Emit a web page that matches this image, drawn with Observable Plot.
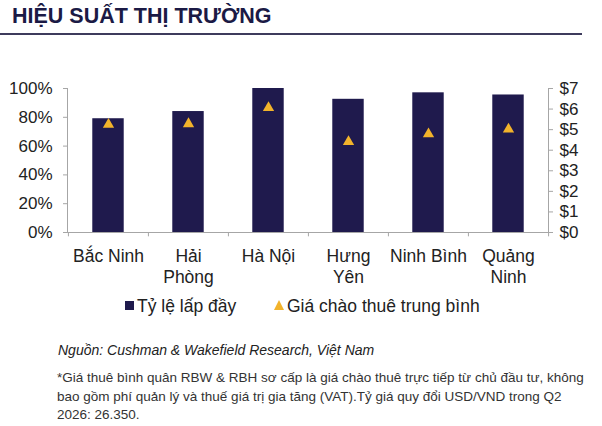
<!DOCTYPE html>
<html><head><meta charset="utf-8">
<script src="https://cdn.jsdelivr.net/npm/d3@7"></script>
<script src="https://cdn.jsdelivr.net/npm/@observablehq/plot@0.6"></script>
<style>
body{margin:0;width:602px;height:426px;position:relative;background:#fff;font-family:"Liberation Sans",Arial,sans-serif;overflow:hidden}
.abs{position:absolute;white-space:nowrap}
</style></head><body>
<div class="abs" style="left:12px;top:4px;font-weight:bold;font-size:21.5px;color:#1b1a45">HIỆU SUẤT THỊ TRƯỜNG</div>
<div class="abs" style="left:0;top:33px;width:582px;height:2px;background:#3d3b5c"></div>
<div class="abs" style="left:507px;top:47px;width:60px;text-align:center;font-size:13px;line-height:16px;color:#333">USD/m²/<br>tháng</div>
<div id="chart" class="abs" style="left:0;top:40px"></div>
<div class="abs" style="left:125px;top:301px;width:9px;height:9px;background:#1f1a4d"></div>
<div class="abs" style="left:137px;top:296px;font-size:17.5px;line-height:20px;color:#222">Tỷ lệ lấp đầy</div>
<div class="abs" style="left:274px;top:300px;width:0;height:0;border-left:5.5px solid transparent;border-right:5.5px solid transparent;border-bottom:10px solid #f2b32b"></div>
<div class="abs" style="left:287px;top:296px;font-size:17.5px;line-height:20px;color:#222">Giá chào thuê trung bình</div>
<div class="abs" style="left:58px;top:341px;font-size:14px;line-height:18px;font-style:italic;color:#222">Nguồn: Cushman &amp; Wakefield Research, Việt Nam</div>
<div class="abs" style="left:57px;top:369px;font-size:13.5px;line-height:18.5px;color:#333">*Giá thuê bình quân RBW &amp; RBH sơ cấp là giá chào thuê trực tiếp từ chủ đầu tư, không<br>bao gồm phí quản lý và thuế giá trị gia tăng (VAT).Tỷ giá quy đổi USD/VND trong Q2<br>2026: 26.350.</div>
<script>
const categories = ["Bắc Ninh","Hải Phòng","Hà Nội","Hưng Yên","Ninh Bình","Quảng Ninh"];
const categoryLabels = ["Bắc Ninh","Hải\nPhòng","Hà Nội","Hưng\nYên","Ninh Bình","Quảng\nNinh"];
const occupancy = [0.79, 0.84, 1.00, 0.925, 0.97, 0.955];
const rentUSD = [5.25, 5.28, 6.06, 4.41, 4.79, 5.02];
const pctTicks = [0, 0.2, 0.4, 0.6, 0.8, 1];
const usdTicks = [0, 1, 2, 3, 4, 5, 6, 7];
const usdMax = 7;

const rows = categories.map((c, i) => ({c, occ: occupancy[i], rent: rentUSD[i]}));
const W = 602, H = 260, ML = 67, MR = 54, MT = 48, MB = 68;
const step = (W - ML - MR) / categories.length;
const barW = 31.6;
const inset = (step - barW) / 2;
const axisGray = "#a6a6a6";

const chart = Plot.plot({
  width: W, height: H, marginLeft: ML, marginRight: MR, marginTop: MT, marginBottom: MB,
  style: {fontFamily: "'Liberation Sans', Arial, sans-serif", fontSize: "17px", color: "#222", background: "#fff", overflow: "visible"},
  x: {domain: categories, padding: 0, axis: null},
  y: {domain: [0, 1], axis: null},
  marks: [
    Plot.barY(rows, {x: "c", y: "occ", fill: "#1f1a4d", insetLeft: inset, insetRight: inset}),
    Plot.dot(rows, {x: "c", y: d => d.rent / usdMax, symbol: "triangle", r: 4.2, fill: "#f2b32b", stroke: null}),
    Plot.ruleY([0], {stroke: axisGray}),
    Plot.frame({anchor: "left", stroke: axisGray}),
    Plot.frame({anchor: "right", stroke: axisGray}),
    Plot.ruleX(categories, {x: d => d, dx: -step / 2, y1: 0, y2: -0.03, stroke: axisGray}),
    Plot.ruleX([categories[categories.length - 1]], {x: d => d, dx: step / 2, y1: 0, y2: -0.03, stroke: axisGray}),
    Plot.axisY({anchor: "left", ticks: pctTicks, tickFormat: d => Math.round(d * 100) + "%", tickSize: 4, tickPadding: 11, label: null, stroke: axisGray, fill: "#222", fontSize: 17}),
    Plot.axisY({anchor: "right", ticks: usdTicks.map(k => k / usdMax), tickFormat: d => "$" + Math.round(d * usdMax), tickSize: 4, tickPadding: 7, label: null, stroke: axisGray, fill: "#222", fontSize: 17}),
    Plot.axisX({ticks: categories, tickFormat: d => categoryLabels[categories.indexOf(d)], tickSize: 0, tickPadding: 15, lineHeight: 1.2, label: null, fill: "#222", fontSize: 17.5})
  ]
});
document.getElementById("chart").appendChild(chart);
</script>
</body></html>
